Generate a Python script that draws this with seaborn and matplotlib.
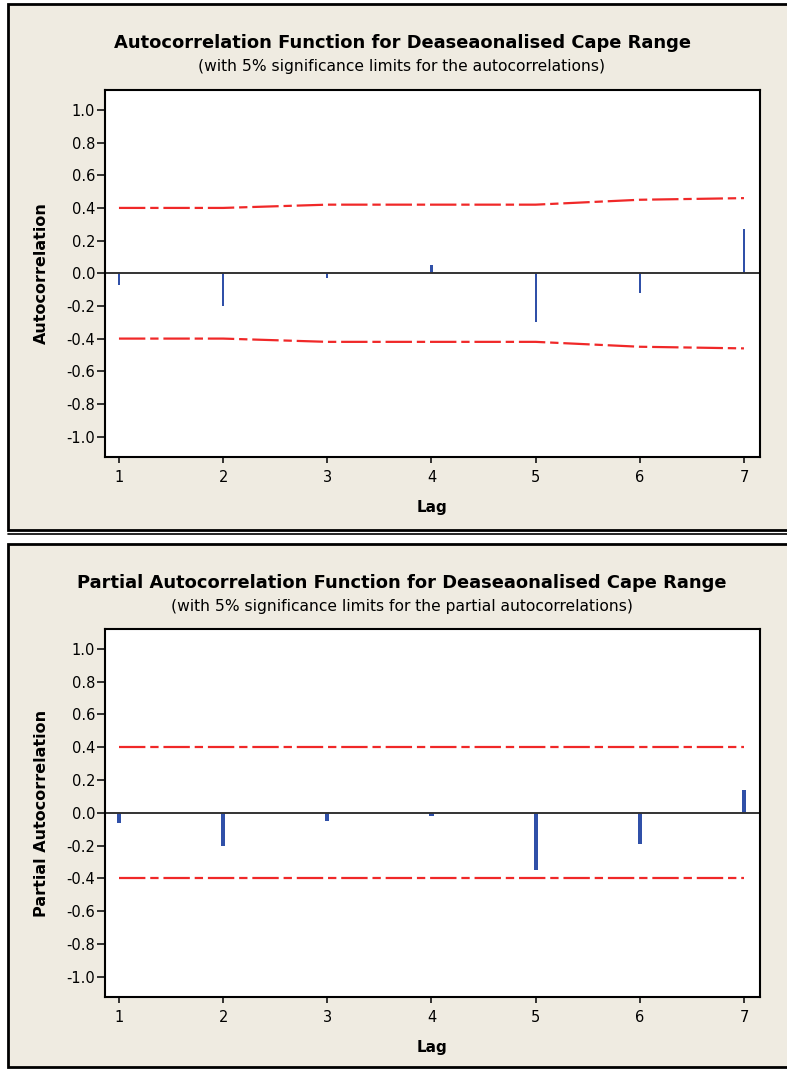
import matplotlib
matplotlib.use("Agg")
import matplotlib.pyplot as plt
from matplotlib.patches import Rectangle
from matplotlib.lines import Line2D
import seaborn as sns

# ACF / PACF values
lags = [1, 2, 3, 4, 5, 6, 7]
acf_vals = [-0.07, -0.20, -0.03, 0.05, -0.30, -0.12, 0.27]
acf_limit = [0.40, 0.40, 0.42, 0.42, 0.42, 0.45, 0.46]
pacf_vals = [-0.06, -0.20, -0.05, -0.02, -0.35, -0.19, 0.14]
pacf_limit = [0.40, 0.40, 0.40, 0.40, 0.40, 0.40, 0.40]
yticks = [1.0, 0.8, 0.6, 0.4, 0.2, 0.0, -0.2, -0.4, -0.6, -0.8, -1.0]

sns.set_style("white")
plt.rcParams["font.family"] = ["DejaVu Sans"]
plt.rcParams["axes.unicode_minus"] = False
plt.rcParams["lines.scale_dashes"] = False
for k in ["text.color", "axes.labelcolor", "xtick.color", "ytick.color"]:
    plt.rcParams[k] = "black"

W, H = 787, 1070
BEIGE = "#EFEBE1"
BLUE = "#3050A8"
RED = "#F02828"

fig = plt.figure(figsize=(W / 100, H / 100), dpi=100)
fig.patch.set_facecolor("white")


def frac_box(x0, y0, x1, y1):
    return [x0 / W, 1 - y1 / H, (x1 - x0) / W, (y1 - y0) / H]


def hline(y, x0, x1, lw):
    fig.add_artist(Line2D([x0 / W, x1 / W], [1 - y / H, 1 - y / H], transform=fig.transFigure,
                          color="black", lw=lw, zorder=-1))


# beige panels with dark frames
for (y0, y1) in [(4, 530), (544, 1067)]:
    b = frac_box(8, y0, 800, y1)
    fig.add_artist(Rectangle((b[0], b[1]), b[2], b[3], transform=fig.transFigure,
                             facecolor=BEIGE, edgecolor="black", lw=2.0, zorder=-2))
hline(534, 8, 787, 1.2)


def draw_panel(box, vals, limit, width, title, subtitle, ylabel, title_y):
    ax = fig.add_axes(frac_box(*box))
    ax.set_facecolor("white")
    sns.barplot(x=lags, y=vals, native_scale=True, width=width, color=BLUE,
                linewidth=0, errorbar=None, saturation=1, ax=ax)
    dash = (0, (19, 3.5, 6, 3.5))
    sns.lineplot(x=lags, y=limit, color=RED, lw=1.6, linestyle=dash, ax=ax)
    sns.lineplot(x=lags, y=[-v for v in limit], color=RED, lw=1.6, linestyle=dash, ax=ax)
    ax.axhline(0, color="#333333", lw=1.4, zorder=1)

    ax.set_xlim(0.866, 7.154)
    ax.set_ylim(-1.125, 1.122)
    ax.set_xticks(lags)
    ax.set_xticklabels([str(l) for l in lags], fontsize=10.5)
    ax.set_yticks(yticks)
    ax.set_yticklabels([f"{t:.1f}" for t in yticks], fontsize=10.5)
    ax.tick_params(axis="y", direction="out", length=6, width=1.1, pad=1, left=True)
    ax.tick_params(axis="x", direction="out", length=4, width=1.1, pad=5, bottom=True)
    for s in ax.spines.values():
        s.set_color("black")
        s.set_linewidth(1.5)

    ax.set_xlabel("Lag", fontsize=11, fontweight="bold")
    ax.xaxis.set_label_coords(0.5, -0.117)
    ax.set_ylabel(ylabel, fontsize=11.5, fontweight="bold")
    ax.yaxis.set_label_coords(-0.086, 0.5)

    fig.text(402 / W, 1 - title_y / H, title, ha="center", va="center",
             fontsize=12.9, fontweight="bold")
    fig.text(402 / W, 1 - (title_y + 24) / H, subtitle, ha="center", va="center", fontsize=11.2)
    return ax


draw_panel((105, 90, 760, 457), acf_vals, acf_limit, 0.02,
           "Autocorrelation Function for Deaseaonalised Cape Range",
           "(with 5% significance limits for the autocorrelations)",
           "Autocorrelation", 43)
draw_panel((105, 629, 760, 997), pacf_vals, pacf_limit, 0.04,
           "Partial Autocorrelation Function for Deaseaonalised Cape Range",
           "(with 5% significance limits for the partial autocorrelations)",
           "Partial Autocorrelation", 583)

fig.savefig("out.png", dpi=100)
